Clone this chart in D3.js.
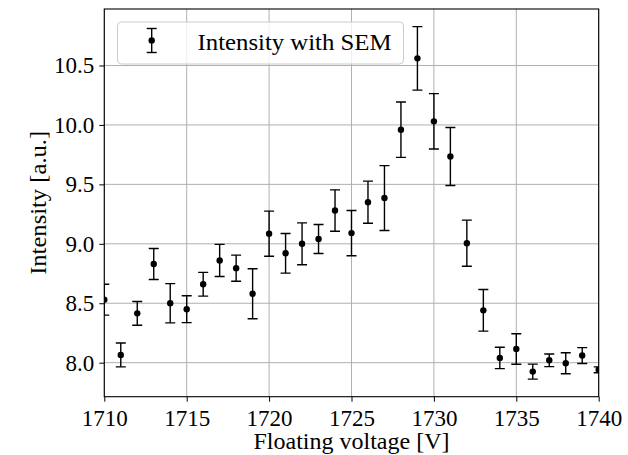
<!DOCTYPE html>
<html>
<head>
<meta charset="utf-8">
<script src="https://cdn.jsdelivr.net/npm/d3@7"></script>
<style>
html,body{margin:0;padding:0;background:#fff;}
svg{display:block;}
text{font-family:"Liberation Serif","Times New Roman",serif;fill:#000;}
</style>
</head>
<body>
<div id="chart"></div>
<script>
const voltages = [1710,1711,1712,1713,1714,1715,1716,1717,1718,1719,1720,1721,1722,1723,1724,1725,1726,1727,1728,1729,1730,1731,1732,1733,1734,1735,1736,1737,1738,1739,1740];
const intensity = [8.53,8.065,8.415,8.83,8.50,8.45,8.66,8.86,8.795,8.58,9.085,8.92,9.0,9.04,9.28,9.09,9.35,9.385,9.96,10.56,10.03,9.735,9.005,8.44,8.04,8.115,7.925,8.02,7.995,8.06,7.94];
const sem = [0.13,0.10,0.10,0.13,0.165,0.113,0.10,0.135,0.11,0.21,0.19,0.167,0.176,0.122,0.174,0.19,0.177,0.273,0.233,0.267,0.233,0.244,0.194,0.175,0.09,0.128,0.063,0.053,0.088,0.067,0.025];
const xTicks = [1710,1715,1720,1725,1730,1735,1740];
const yTicks = [8.0,8.5,9.0,9.5,10.0,10.5];
const legendLabel = "Intensity with SEM";
const xLabel = "Floating voltage [V]";
const yLabel = "Intensity [a.u.]";

const W = 628, H = 455;
const m = {left:104.3, right:W-598.7, top:9, bottom:H-396.7};
const iw = W - m.left - m.right, ih = H - m.top - m.bottom;

const data = voltages.map((v,i)=>({x:v, y:intensity[i], e:sem[i]}));
const lo = d3.min(data, d=>d.y-d.e), hi = d3.max(data, d=>d.y+d.e);
const pad = (hi-lo)*0.05;

const x = d3.scaleLinear().domain([1710,1740]).range([0,iw]);
const y = d3.scaleLinear().domain([lo-pad, hi+pad]).range([ih,0]);

const svg = d3.select("#chart").append("svg").attr("width",W).attr("height",H);
const g = svg.append("g").attr("transform",`translate(${m.left},${m.top})`);

svg.append("defs").append("clipPath").attr("id","clip")
  .append("rect").attr("width",iw).attr("height",ih);

// grid
g.append("g").selectAll("line").data(xTicks).join("line")
  .attr("x1",d=>x(d)).attr("x2",d=>x(d)).attr("y1",0).attr("y2",ih)
  .attr("stroke","#b0b0b0").attr("stroke-width",1);
g.append("g").selectAll("line").data(yTicks).join("line")
  .attr("y1",d=>y(d)).attr("y2",d=>y(d)).attr("x1",0).attr("x2",iw)
  .attr("stroke","#b0b0b0").attr("stroke-width",1);

// axes
const xAxis = d3.axisBottom(x).tickValues(xTicks).tickSize(5).tickPadding(7).tickFormat(d3.format("d"));
const yAxis = d3.axisLeft(y).tickValues(yTicks).tickSize(5).tickPadding(5).tickFormat(d3.format(".1f"));
const gx = g.append("g").attr("transform",`translate(0,${ih})`).call(xAxis);
const gy = g.append("g").call(yAxis);
[gx,gy].forEach(a=>{
  a.select(".domain").remove();
  a.selectAll("line").attr("stroke","#000").attr("stroke-width",1);
  a.selectAll("text").style("font-size","23px").attr("font-family",'"Liberation Serif",serif');
});
gx.selectAll("text").attr("dy","0.75em");

// frame
g.append("rect").attr("width",iw).attr("height",ih).attr("fill","none").attr("stroke","#000").attr("stroke-width",1.1);

// error bars
const eb = g.append("g").attr("clip-path","url(#clip)");
const cw = 5;
eb.selectAll(".v").data(data).join("line")
  .attr("x1",d=>x(d.x)).attr("x2",d=>x(d.x)).attr("y1",d=>y(d.y-d.e)).attr("y2",d=>y(d.y+d.e))
  .attr("stroke","#000").attr("stroke-width",1.4);
eb.selectAll(".t").data(data).join("line")
  .attr("x1",d=>x(d.x)-cw).attr("x2",d=>x(d.x)+cw).attr("y1",d=>y(d.y+d.e)).attr("y2",d=>y(d.y+d.e))
  .attr("stroke","#000").attr("stroke-width",1.4);
eb.selectAll(".b").data(data).join("line")
  .attr("x1",d=>x(d.x)-cw).attr("x2",d=>x(d.x)+cw).attr("y1",d=>y(d.y-d.e)).attr("y2",d=>y(d.y-d.e))
  .attr("stroke","#000").attr("stroke-width",1.4);
eb.selectAll("circle").data(data).join("circle")
  .attr("cx",d=>x(d.x)).attr("cy",d=>y(d.y)).attr("r",3.2).attr("fill","#000");

// legend
const lg = svg.append("g");
lg.append("rect").attr("x",117.5).attr("y",22).attr("width",286).attr("height",42).attr("rx",4)
  .attr("fill","#fff").attr("fill-opacity",0.8).attr("stroke","#ccc").attr("stroke-width",1);
lg.append("line").attr("x1",151.7).attr("x2",151.7).attr("y1",28.5).attr("y2",52.5).attr("stroke","#000").attr("stroke-width",1.4);
lg.append("line").attr("x1",146.7).attr("x2",156.7).attr("y1",28.5).attr("y2",28.5).attr("stroke","#000").attr("stroke-width",1.4);
lg.append("line").attr("x1",146.7).attr("x2",156.7).attr("y1",52.5).attr("y2",52.5).attr("stroke","#000").attr("stroke-width",1.4);
lg.append("circle").attr("cx",151.7).attr("cy",40.5).attr("r",3.2).attr("fill","#000");
lg.append("text").attr("x",197.5).attr("y",49.5).style("font-size","23px")
  .attr("textLength",194).attr("lengthAdjust","spacingAndGlyphs").text(legendLabel);

// axis labels
svg.append("text").attr("x",m.left+iw/2).attr("y",449).attr("text-anchor","middle").style("font-size","23px")
  .attr("textLength",196).attr("lengthAdjust","spacingAndGlyphs").text(xLabel);
svg.append("text").attr("transform",`translate(46,${m.top+ih/2}) rotate(-90)`).attr("text-anchor","middle").style("font-size","23px")
  .attr("textLength",144).attr("lengthAdjust","spacingAndGlyphs").text(yLabel);
</script>
</body>
</html>
